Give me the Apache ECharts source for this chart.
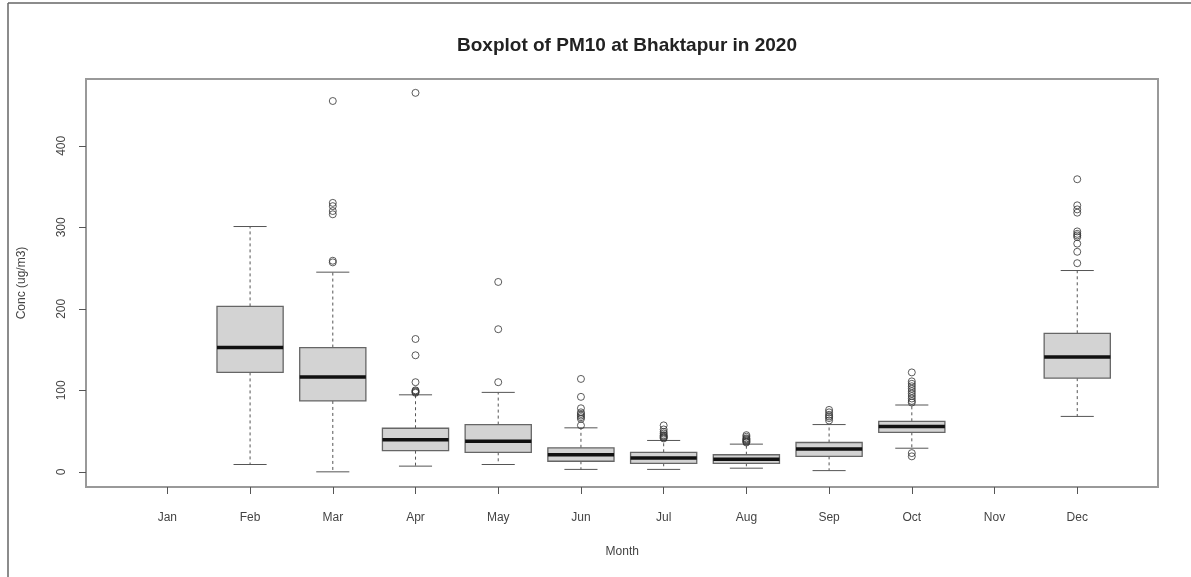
<!DOCTYPE html>
<html>
<head>
<meta charset="utf-8">
<script src="https://cdn.jsdelivr.net/npm/echarts@6/dist/echarts.min.js"></script>
<style>
  html, body { margin: 0; padding: 0; background: #fff; }
  #chart { width: 1191px; height: 577px; }
</style>
</head>
<body>
<div id="chart"></div>
<script>
const months = ['Jan', 'Feb', 'Mar', 'Apr', 'May', 'Jun', 'Jul', 'Aug', 'Sep', 'Oct', 'Nov', 'Dec'];
const lowerWhisker = [null, 9, 0, 7, 9, 3, 3, 4.5, 1.5, 29, null, 68];
const q1 = [null, 122, 87, 26, 24, 13, 10.5, 10.5, 19, 48.5, null, 115];
const median = [null, 152.5, 116.5, 39.5, 37.5, 21, 17, 15.5, 28, 55.5, null, 141];
const q3 = [null, 203, 152.5, 53.5, 58, 29.5, 24, 21, 36, 62, null, 170];
const upperWhisker = [null, 301, 245, 94.5, 97.5, 54, 38.5, 34, 58, 82, null, 247];
const outliers = [
  [],
  [],
  [455, 330, 326, 320, 316, 259, 257],
  [465, 163, 143, 110, 100, 99, 98, 97],
  [233, 175, 110],
  [114, 92, 78, 73, 71, 69, 67, 65, 57],
  [57, 52, 49, 47, 45, 44, 43, 42, 41],
  [45, 43, 41, 40, 39, 38, 37, 36],
  [76, 73, 70, 68, 66, 63],
  [122, 111, 108, 105, 102, 99, 96, 93, 90, 87, 85, 23, 19],
  [],
  [359, 327, 322, 318, 295, 292, 290, 288, 280, 270, 256]
];
const yTicks = [0, 100, 200, 300, 400];

const boxData = [];
months.forEach((m, i) => {
  if (median[i] !== null) {
    boxData.push([i, lowerWhisker[i], q1[i], median[i], q3[i], upperWhisker[i]]);
  }
});
const outlierData = [];
outliers.forEach((arr, i) => arr.forEach(v => outlierData.push([i, v])));

function renderBox(params, api) {
  const x = api.value(0);
  const lo = api.coord([x, api.value(1)]);
  const b1 = api.coord([x, api.value(2)]);
  const md = api.coord([x, api.value(3)]);
  const b3 = api.coord([x, api.value(4)]);
  const hi = api.coord([x, api.value(5)]);
  const band = api.size([1, 0])[0];
  const hw = band * 0.4, cw = band * 0.2;
  const cx = md[0];
  const lineColor = '#555';
  return {
    type: 'group',
    children: [
      { type: 'line', shape: { x1: cx, y1: b3[1], x2: cx, y2: hi[1] },
        style: { stroke: lineColor, lineWidth: 1, lineDash: [3, 3] } },
      { type: 'line', shape: { x1: cx, y1: b1[1], x2: cx, y2: lo[1] },
        style: { stroke: lineColor, lineWidth: 1, lineDash: [3, 3] } },
      { type: 'line', shape: { x1: cx - cw, y1: hi[1], x2: cx + cw, y2: hi[1] },
        style: { stroke: lineColor, lineWidth: 1 } },
      { type: 'line', shape: { x1: cx - cw, y1: lo[1], x2: cx + cw, y2: lo[1] },
        style: { stroke: lineColor, lineWidth: 1 } },
      { type: 'rect', shape: { x: cx - hw, y: b3[1], width: hw * 2, height: b1[1] - b3[1] },
        style: { fill: '#d3d3d3', stroke: '#666', lineWidth: 1.3 } },
      { type: 'line', shape: { x1: cx - hw, y1: md[1], x2: cx + hw, y2: md[1] },
        style: { stroke: '#111', lineWidth: 3.5 } }
    ]
  };
}

const chart = echarts.init(document.getElementById('chart'), null, { renderer: 'canvas' });
const textColor = '#444';
chart.setOption({
  backgroundColor: '#fff',
  animation: false,
  title: {
    text: 'Boxplot of PM10 at Bhaktapur in 2020',
    left: 622,
    textAlign: 'center',
    top: 31,
    textStyle: { fontFamily: 'Liberation Sans', fontWeight: 'bold', fontSize: 19, color: '#222' }
  },
  graphic: [
    { type: 'line', shape: { x1: 8, y1: 3, x2: 1191, y2: 3 }, style: { stroke: '#666', lineWidth: 1.5 } },
    { type: 'line', shape: { x1: 8, y1: 3, x2: 8, y2: 577 }, style: { stroke: '#666', lineWidth: 1.5 } }
  ],
  grid: [
    { left: 126, right: 72.4, top: 79, bottom: 90 },
    { left: 86, right: 33, top: 79, bottom: 90, show: true, borderColor: '#999', borderWidth: 2, backgroundColor: 'transparent' }
  ],
  xAxis: [
    {
      type: 'category', gridIndex: 0, data: months,
      axisLine: { show: false, onZero: false },
      axisTick: { show: true, alignWithLabel: true, length: 7, lineStyle: { color: '#555' } },
      axisLabel: { margin: 25, fontFamily: 'Liberation Sans', fontSize: 12, color: textColor, interval: 0 },
      name: 'Month', nameLocation: 'middle', nameGap: 59,
      nameTextStyle: { fontFamily: 'Liberation Sans', fontSize: 12, color: textColor },
      splitLine: { show: false }
    },
    { type: 'value', gridIndex: 1, show: false }
  ],
  yAxis: [
    {
      type: 'value', gridIndex: 0, min: -18.6, max: 482, offset: 40,
      axisLine: { show: false },
      axisTick: { show: true, length: 7, customValues: yTicks, lineStyle: { color: '#555' } },
      axisLabel: { rotate: 90, margin: 18, customValues: yTicks, fontFamily: 'Liberation Sans', fontSize: 12, color: textColor },
      splitLine: { show: false },
      name: 'Conc (ug/m3)', nameLocation: 'middle', nameGap: 58,
      nameTextStyle: { fontFamily: 'Liberation Sans', fontSize: 12, color: textColor }
    },
    { type: 'value', gridIndex: 1, show: false }
  ],
  series: [
    {
      type: 'custom', xAxisIndex: 0, yAxisIndex: 0,
      renderItem: renderBox,
      encode: { x: 0, y: [1, 2, 3, 4, 5] },
      data: boxData, z: 2
    },
    {
      type: 'scatter', xAxisIndex: 0, yAxisIndex: 0,
      symbol: 'circle', symbolSize: 7,
      itemStyle: { color: 'rgba(0,0,0,0)', borderColor: '#333', borderWidth: 1 },
      data: outlierData, z: 3
    }
  ]
});
</script>
</body>
</html>
